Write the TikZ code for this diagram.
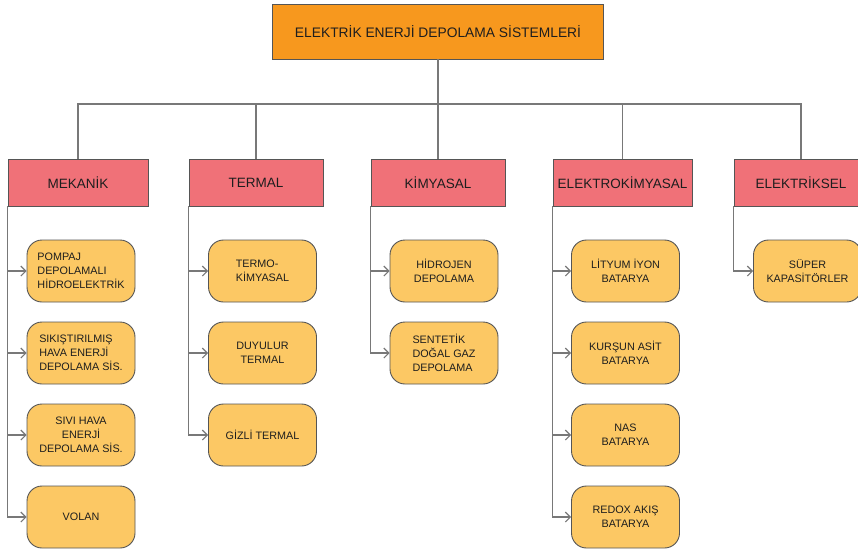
\documentclass[tikz,border=0pt]{standalone}
\usepackage{fontspec}
\setmainfont{Liberation Sans}
\usetikzlibrary{arrows.meta}
\definecolor{topfill}{RGB}{247,152,30}
\definecolor{catfill}{RGB}{240,113,120}
\definecolor{leaffill}{RGB}{252,200,100}
\definecolor{edgec}{RGB}{85,85,85}
\definecolor{linec}{RGB}{120,120,120}
\definecolor{txt}{RGB}{30,30,30}
\tikzset{
  topbox/.style={draw=edgec, line width=0.9pt, fill=topfill, minimum width=331pt, minimum height=55pt, inner sep=0pt, font=\fontsize{13.8}{16}\selectfont, text=txt},
  catbox/.style={draw=edgec, line width=0.9pt, fill=catfill, minimum width=134pt, minimum height=47pt, inner sep=0pt, font=\fontsize{13.5}{16}\selectfont, text=txt},
  leafbox/.style={draw=edgec, line width=0.9pt, fill=leaffill, rounded corners=15pt, minimum width=108pt, minimum height=62pt, inner sep=0pt, font=\fontsize{10.8}{14}\selectfont, text=txt, align=center},
  conn/.style={draw=linec, line width=1.1pt},
  arr/.style={conn, -{Straight Barb[length=5pt,width=10pt]}}
}
\begin{document}
\begin{tikzpicture}[x=1pt,y=-1pt]
\clip (0,0) rectangle (858,550);
\useasboundingbox (0,0) rectangle (858,550);
\fill[white] (0,0) rectangle (858,550);

\coordinate (bus) at (438,104);

\node[topbox] (top) at (438,31.5) {ELEKTRİK ENERJİ DEPOLAMA SİSTEMLERİ};

\node[catbox, minimum width=140pt] (mek) at (78,182.5) {MEKANİK};
\node[catbox] (ter) at (256,182.5) {TERMAL};
\node[catbox] (kim) at (438,182.5) {KİMYASAL};
\node[catbox, minimum width=139pt] (ekim) at (622.5,182.5) {ELEKTROKİMYASAL};
\node[catbox] (elk) at (801,182.5) {ELEKTRİKSEL};

% leaves
\node[leafbox, align=left] (m1) at (81,271) {POMPAJ\\DEPOLAMALI\\HİDROELEKTRİK};
\node[leafbox, align=left] (m2) at (81,353) {SIKIŞTIRILMIŞ\\HAVA ENERJİ\\DEPOLAMA SİS.};
\node[leafbox] (m3) at (81,435) {SIVI HAVA\\ENERJİ\\DEPOLAMA SİS.};
\node[leafbox] (m4) at (81,517) {VOLAN};

\node[leafbox, align=left] (t1) at (262.5,271) {TERMO-\\KİMYASAL};
\node[leafbox] (t2) at (262.5,353) {DUYULUR\\TERMAL};
\node[leafbox] (t3) at (262.5,435) {GİZLİ TERMAL};

\node[leafbox] (k1) at (444,271) {HİDROJEN\\DEPOLAMA};
\node[leafbox, align=left] (k2) at (444,353) {SENTETİK\\DOĞAL GAZ\\DEPOLAMA};

\node[leafbox] (e1) at (625.5,271) {LİTYUM İYON\\BATARYA};
\node[leafbox] (e2) at (625.5,353) {KURŞUN ASİT\\BATARYA};
\node[leafbox] (e3) at (625.5,435) {NAS\\BATARYA};
\node[leafbox] (e4) at (625.5,517) {REDOX AKIŞ\\BATARYA};

\node[leafbox] (s1) at (807.5,271) {SÜPER\\KAPASİTÖRLER};

% top connectors
\foreach \c in {mek,ter,kim,ekim,elk}
  \draw[conn] (top.south) -- (top.south |- bus) -| (\c.north);

% leaf connectors
\foreach \c/\l in {mek/m1,mek/m2,mek/m3,mek/m4,ter/t1,ter/t2,ter/t3,kim/k1,kim/k2,ekim/e1,ekim/e2,ekim/e3,ekim/e4,elk/s1}
  \draw[arr] (\c.south west) |- (\l.west);
\end{tikzpicture}
\end{document}
